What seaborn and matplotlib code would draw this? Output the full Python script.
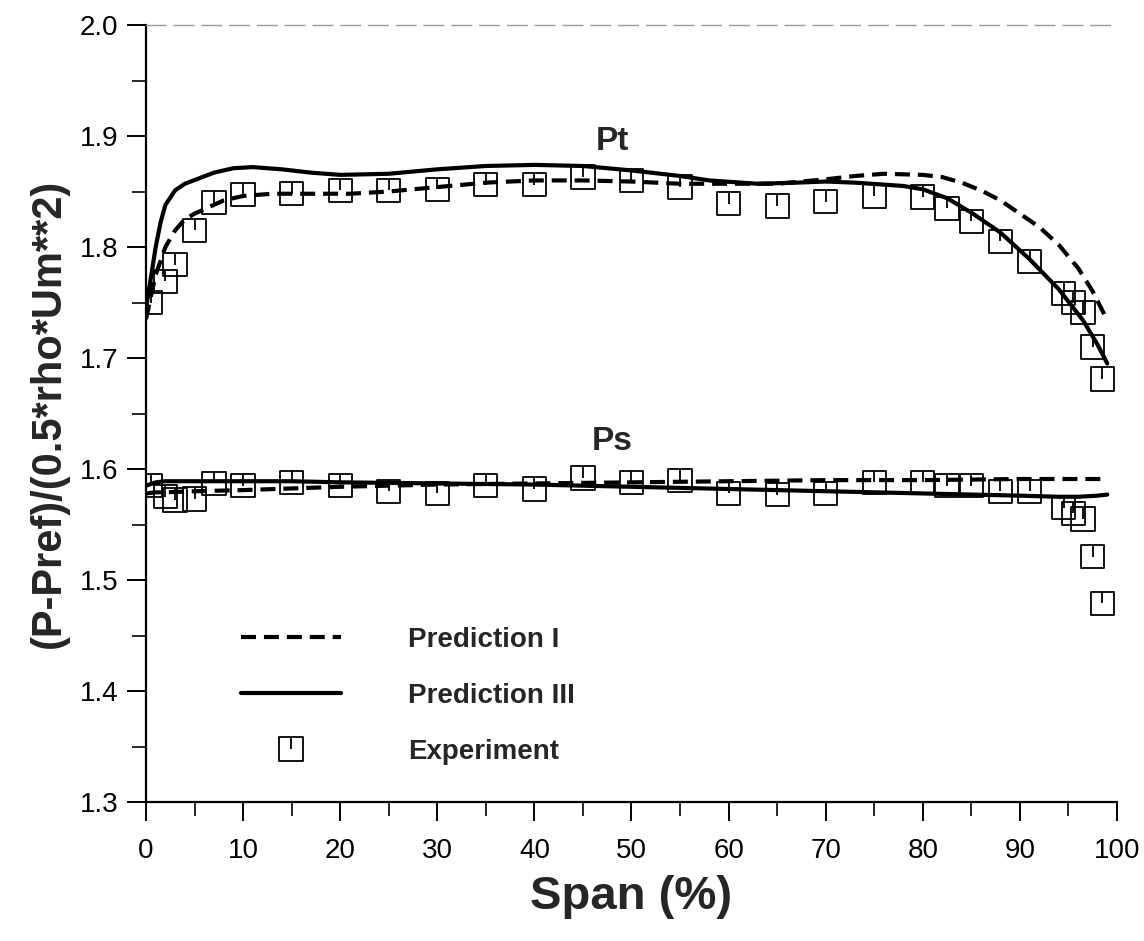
import numpy as np
import pandas as pd
import matplotlib
matplotlib.use("Agg")
import matplotlib.pyplot as plt
from matplotlib.path import Path
from matplotlib.lines import Line2D
import seaborn as sns

# ---------------- data ----------------
# Total pressure (Pt), experiment
exp_span = [0.5, 2, 3, 5, 7, 10, 15, 20, 25, 30, 35, 40, 45, 50, 55, 60, 65, 70,
            75, 80, 82.5, 85, 88, 91, 94.5, 95.5, 96.5, 97.5, 98.5]
pt_exp = [1.750, 1.769, 1.784, 1.815, 1.840, 1.847, 1.848, 1.851, 1.851, 1.852,
          1.856, 1.856, 1.863, 1.860, 1.854, 1.839, 1.837, 1.841, 1.846, 1.845,
          1.835, 1.823, 1.805, 1.787, 1.758, 1.750, 1.741, 1.710, 1.681]
# Static pressure (Ps), experiment
ps_exp = [1.585, 1.575, 1.572, 1.573, 1.587, 1.585, 1.588, 1.585, 1.580, 1.578,
          1.585, 1.582, 1.592, 1.588, 1.590, 1.578, 1.577, 1.578, 1.588, 1.588,
          1.585, 1.585, 1.580, 1.580, 1.565, 1.560, 1.555, 1.521, 1.479]

# Prediction III (solid)
p3_pt_span = [0, 0.5, 1, 1.5, 2, 3, 4, 5.5, 7, 9, 11, 14, 17, 20, 25, 30, 35, 40,
              45, 50, 55, 58, 63, 67, 70, 73, 78, 80, 82.5, 85, 88, 91, 94, 96.5,
              98, 99]
p3_pt = [1.745, 1.772, 1.800, 1.822, 1.838, 1.851, 1.857, 1.862, 1.867, 1.871,
         1.872, 1.870, 1.867, 1.865, 1.866, 1.870, 1.873, 1.874, 1.873, 1.869,
         1.864, 1.860, 1.857, 1.858, 1.859, 1.858, 1.855, 1.852, 1.844, 1.831,
         1.813, 1.789, 1.762, 1.734, 1.712, 1.695]
p3_ps_span = [0, 1, 2, 5, 10, 15, 20, 30, 40, 50, 60, 70, 80, 85, 90, 94, 96, 98, 99]
p3_ps = [1.585, 1.588, 1.589, 1.589, 1.589, 1.589, 1.588, 1.587, 1.586, 1.584,
         1.582, 1.580, 1.578, 1.577, 1.576, 1.575, 1.575, 1.576, 1.577]

# Prediction I (dashed)
p1_pt_span = [0, 0.5, 1, 2, 3, 4, 5, 6.5, 8, 10, 13, 17, 21, 25, 30, 35, 40, 45,
              50, 55, 60, 65, 70, 73, 76, 80, 82, 84, 86, 88, 90, 92, 94, 96,
              97.5, 99]
p1_pt = [1.735, 1.755, 1.775, 1.800, 1.815, 1.825, 1.830, 1.836, 1.842, 1.846,
         1.848, 1.848, 1.848, 1.850, 1.854, 1.858, 1.860, 1.860, 1.859, 1.857,
         1.857, 1.857, 1.861, 1.864, 1.866, 1.865, 1.863, 1.858, 1.851, 1.842,
         1.830, 1.818, 1.802, 1.781, 1.760, 1.734]
p1_ps_span = [0, 1, 2, 5, 10, 20, 30, 40, 50, 60, 70, 80, 90, 95, 99]
p1_ps = [1.578, 1.579, 1.579, 1.580, 1.581, 1.584, 1.586, 1.587, 1.588, 1.589,
         1.590, 1.590, 1.591, 1.591, 1.591]

x_ticks = [0, 10, 20, 30, 40, 50, 60, 70, 80, 90, 100]
y_ticks = [1.3, 1.4, 1.5, 1.6, 1.7, 1.8, 1.9, 2.0]

# ---------------- style ----------------
sns.set_theme(style="ticks")
plt.rcParams["font.family"] = ["Liberation Sans", "DejaVu Sans"]

fig = plt.figure(figsize=(11.44, 9.41), dpi=100)
ax = fig.add_axes([0.1276, 0.1477, 0.8488, 0.8257])

# open square with a short vertical stroke from the top edge to the centre
sq_marker = Path(
    [(-1, -1), (1, -1), (1, 1), (-1, 1), (-1, -1), (0, 1), (0, 0)],
    [Path.MOVETO, Path.LINETO, Path.LINETO, Path.LINETO, Path.CLOSEPOLY,
     Path.MOVETO, Path.LINETO],
)

dash_pat = (3.6, 1.9)
LW = 3.0

def draw_line(xs, ys, dashed):
    df = pd.DataFrame({"span": xs, "val": ys})
    sns.lineplot(data=df, x="span", y="val", ax=ax, color="black", lw=LW,
                 sort=False, estimator=None,
                 linestyle=(0, dash_pat) if dashed else "-")

draw_line(p1_pt_span, p1_pt, True)
draw_line(p1_ps_span, p1_ps, True)
draw_line(p3_pt_span, p3_pt, False)
draw_line(p3_ps_span, p3_ps, False)

exp_df = pd.DataFrame({
    "span": exp_span + exp_span,
    "val": pt_exp + ps_exp,
})
sns.scatterplot(data=exp_df, x="span", y="val", ax=ax, marker=sq_marker,
                s=280, facecolor="none", edgecolor="black", linewidth=1.3,
                zorder=3)

# ---------------- axes ----------------
ax.set_xlim(0, 100)
ax.set_ylim(1.3, 2.0)
ax.set_xticks(x_ticks)
ax.set_xticklabels([str(t) for t in x_ticks])
ax.set_xticks(np.arange(5, 100, 10), minor=True)
ax.set_yticks(y_ticks)
ax.set_yticklabels([f"{t:.1f}" for t in y_ticks])
ax.set_yticks(np.arange(1.35, 2.0, 0.1), minor=True)

ax.tick_params(axis="both", which="major", direction="out", length=14,
               width=1.4, labelsize=20, colors="black")
ax.tick_params(axis="x", which="major", pad=12)
ax.tick_params(axis="y", which="major", pad=6)
ax.tick_params(axis="both", which="minor", direction="out", length=10,
               width=1.4)

for side in ["left", "bottom"]:
    ax.spines[side].set_linewidth(1.6)
    ax.spines[side].set_color("black")
ax.spines["right"].set_visible(False)
ax.spines["top"].set_visible(True)
ax.spines["top"].set_color("#9a9a9a")
ax.spines["top"].set_linewidth(1.0)
ax.spines["top"].set_linestyle((0, (14, 6)))

ax.set_xlabel("Span (%)", fontsize=34, fontweight="bold", labelpad=8)
ax.set_ylabel("(P-Pref)/(0.5*rho*Um**2)", fontsize=30, fontweight="bold",
              labelpad=8)

ax.text(48, 1.895, "Pt", fontsize=24, fontweight="bold", ha="center",
        va="center")
ax.text(48, 1.625, "Ps", fontsize=24, fontweight="bold", ha="center",
        va="center")

# ---------------- legend ----------------
handles = [
    Line2D([], [], color="black", lw=LW, linestyle=(0, dash_pat)),
    Line2D([], [], color="black", lw=LW),
    Line2D([], [], color="black", lw=0, marker=sq_marker, markersize=17,
           markerfacecolor="none", markeredgewidth=1.3),
]
labels = ["Prediction I", "Prediction III", "Experiment"]
ax.legend(handles, labels, loc="upper left", bbox_to_anchor=(0.098, 0.225),
          frameon=False, prop={"weight": "bold", "size": 20},
          handlelength=3.6, handletextpad=2.4, labelspacing=1.07,
          borderpad=0, borderaxespad=0)

fig.savefig("out.png", dpi=100, facecolor="white")
